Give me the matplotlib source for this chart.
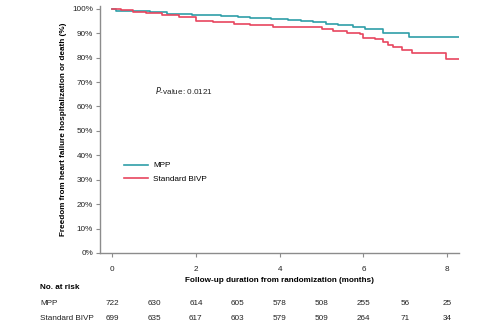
import matplotlib.pyplot as plt
import matplotlib.transforms as mtransforms

plt.rcParams['font.family'] = ['Liberation Sans', 'DejaVu Sans']

# Kaplan-Meier steps (months, % event-free)
mpp_time = [0, 0.1, 0.4, 0.9, 1.3, 1.9, 2.2, 2.6, 3.0, 3.3, 3.8, 4.2, 4.5,
            4.8, 5.1, 5.4, 5.75, 6.04, 6.46, 7.08, 8.28]
mpp_surv = [100, 99.3, 99.0, 98.6, 97.9, 97.5, 97.3, 96.9, 96.5, 96.2, 95.8,
            95.5, 95.2, 94.6, 93.9, 93.3, 92.7, 91.7, 90.3, 88.6, 88.6]

bivp_time = [0, 0.2, 0.5, 0.8, 1.2, 1.6, 2.0, 2.4, 2.9, 3.3, 3.85, 4.8, 5.0,
             5.28, 5.6, 5.92, 6.0, 6.28, 6.47, 6.59, 6.71, 6.91, 7.15, 7.98, 8.28]
bivp_surv = [100, 99.4, 98.9, 98.3, 97.6, 96.8, 95.2, 94.6, 93.8, 93.4, 92.7,
             92.4, 91.9, 91.1, 90.0, 89.5, 88.1, 87.6, 86.5, 85.2, 84.3, 83.2,
             82.1, 79.5, 79.5]

risk_months = [0, 1, 2, 3, 4, 5, 6, 7, 8]
mpp_risk = [722, 630, 614, 605, 578, 508, 255, 56, 25]
bivp_risk = [699, 635, 617, 603, 579, 509, 264, 71, 34]

teal = '#2f9ea8'
red = '#e8465f'
grey = '#8c8c8c'
fs = 5.9

fig = plt.figure(figsize=(5.0, 3.29), dpi=100)
ax = fig.add_axes([0.2, 0.230, 0.718, 0.752])

ax.step(mpp_time, mpp_surv, where='post', color=teal, lw=1.2, label='MPP')
ax.step(bivp_time, bivp_surv, where='post', color=red, lw=1.2, label='Standard BIVP')

ax.set_xlim(-0.29, 8.28)
ax.set_ylim(-0.15, 101.2)
ax.set_xticks([0, 2, 4, 6, 8])
ax.set_yticks(range(0, 101, 10))
ax.set_yticklabels([f'{v}%' for v in range(0, 101, 10)])

for s in ['top', 'right']:
    ax.spines[s].set_visible(False)
for s in ['left', 'bottom']:
    ax.spines[s].set_color(grey)
    ax.spines[s].set_linewidth(1.0)
ax.tick_params(axis='both', colors=grey, labelcolor='#222222', labelsize=fs,
               length=3, width=0.8)
ax.tick_params(axis='x', pad=6)
ax.tick_params(axis='y', pad=2)

ax.set_ylabel('Freedom from heart failure hospitalization or death (%)',
              fontsize=fs, fontweight='bold', labelpad=4)
ax.set_xlabel('Follow-up duration from randomization (months)',
              fontsize=fs, fontweight='bold', labelpad=3)

ax.text(1.03, 66.4, r'$\it{P}$-value: 0.0121', fontsize=fs, va='center',
        color='#222222')

ax.legend(loc='upper left', bbox_to_anchor=(0.045, 0.40), frameon=False,
          fontsize=fs, handlelength=3.0, handletextpad=0.6, labelspacing=0.75)

# number at risk table
fig.text(40 / 500, 1 - 287.7 / 329, 'No. at risk', fontsize=fs,
         fontweight='bold', va='center', ha='left')
trans = mtransforms.blended_transform_factory(ax.transData, fig.transFigure)
rows = [('MPP', mpp_risk, 1 - 303.3 / 329),
        ('Standard BIVP', bivp_risk, 1 - 318.3 / 329)]
for name, counts, yy in rows:
    fig.text(40 / 500, yy, name, fontsize=fs, va='center', ha='left',
             color='#222222')
    for m, c in zip(risk_months, counts):
        ax.text(m, yy, str(c), transform=trans, fontsize=fs, va='center',
                ha='center', color='#222222', clip_on=False)

fig.savefig('out.png', dpi=100)
